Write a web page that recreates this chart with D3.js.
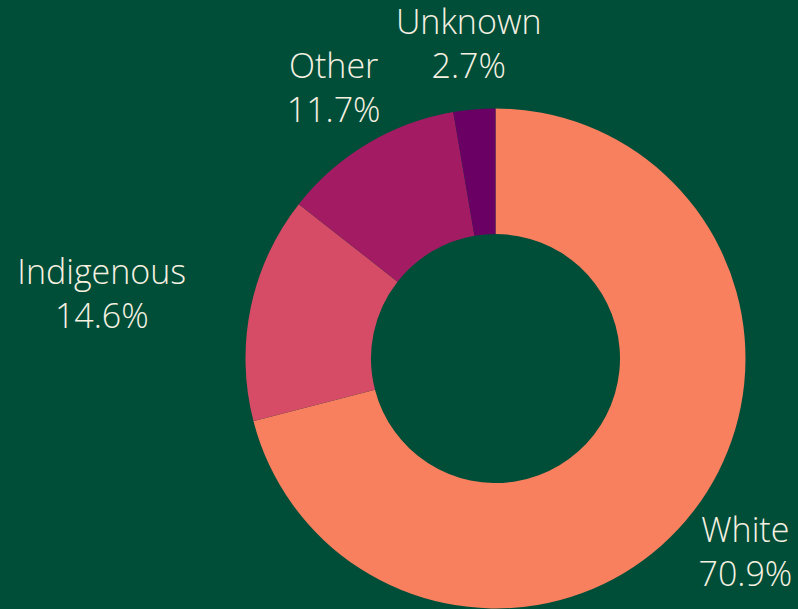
<!DOCTYPE html>
<html>
<head>
<meta charset="utf-8">
<script src="https://cdn.jsdelivr.net/npm/d3@7"></script>
<style>
  html, body { margin: 0; padding: 0; background: #004d38; }
  svg { display: block; }
  .lbl { font-family: "Open Sans", Lato, sans-serif; font-weight: 300; font-size: 34px; fill: #f6f1e1; }
</style>
</head>
<body>
<div id="chart"></div>
<script>
let width = 798;
let height = 609;

// data
const categories = ["White", "Indigenous", "Other", "Unknown"];
const shares = [70.9, 14.6, 11.7, 2.7];
const colors = ["#f9805f", "#d64c66", "#a31c63", "#6a0064"];

const cx = 495.5, cy = 358.5;
const outerR = 250, innerR = 124.5;
const labelR = 316;

var data = categories.map((c, i) => ({ name: c, value: shares[i], color: colors[i] }));

var pie = d3.pie()
    .value(d => d.value)
    .sort(null);

var arc = d3.arc()
    .innerRadius(innerR)
    .outerRadius(outerR);

var svg = d3.select("#chart").append("svg")
    .attr("width", width)
    .attr("height", height);

svg.append("rect")
    .attr("width", width)
    .attr("height", height)
    .attr("fill", "#004d38");

var g = svg.append("g")
    .attr("transform", "translate(" + cx + "," + cy + ")");

var arcs = pie(data);

g.selectAll("path.slice")
  .data(arcs)
  .enter().append("path")
    .attr("class", "slice")
    .attr("d", arc)
    .attr("fill", d => d.data.color);

// labels: two centred lines, block centred on a point outside the ring,
// pushed sideways when the slice points almost horizontally
var labels = g.selectAll("text.lbl")
  .data(arcs)
  .enter().append("text")
    .attr("class", "lbl")
    .attr("text-anchor", "middle");

labels.append("tspan").attr("class", "l1").text(d => d.data.name);
labels.append("tspan").attr("class", "l2").text(d => d.data.value.toFixed(1) + "%");

labels.each(function(d) {
  var t = d3.select(this);
  var a = (d.startAngle + d.endAngle) / 2;
  var ux = Math.sin(a), uy = -Math.cos(a);
  var px = ux * labelR, py = uy * labelR;
  var w = Math.max(
    t.select(".l1").node().getComputedTextLength(),
    t.select(".l2").node().getComputedTextLength());
  if (Math.abs(ux) > 0.9) px += (ux > 0 ? 1 : -1) * w / 2;
  t.select(".l1").attr("x", px).attr("y", py - 9.5);
  t.select(".l2").attr("x", px).attr("y", py + 34.5);
});
</script>
</body>
</html>
